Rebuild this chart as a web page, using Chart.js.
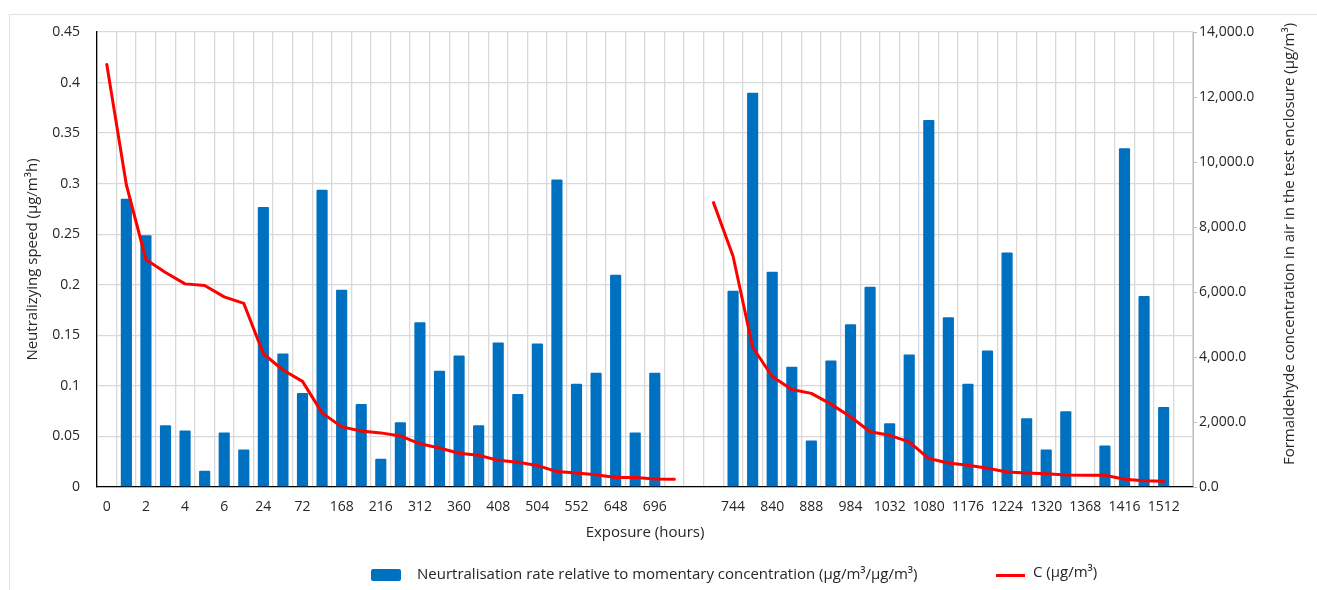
<!DOCTYPE html>
<html>
<head>
<meta charset="utf-8">
<script src="https://cdn.jsdelivr.net/npm/chart.js@4.4.0/dist/chart.umd.min.js"></script>
<style>
  body { margin: 0; background: #fff; font-family: "Open Sans", sans-serif; color: #262626; }
  #wrap { position: relative; width: 1317px; height: 590px; overflow: hidden; }
  #frame { position: absolute; left: 9px; top: 14px; width: 1400px; height: 700px;
           border-left: 1px solid #e3e3e3; border-top: 1px solid #e3e3e3; }
  canvas { position: absolute; left: 0; top: 0; }
  .leg { position: absolute; font-size: 15px; line-height: 15px; white-space: nowrap; }
  .swatch { position: absolute; width: 30px; height: 12px; background: #0070c0; border-radius: 2px; }
  .redline { position: absolute; width: 29px; height: 3px; background: #ff0000; }
</style>
</head>
<body>
<div id="wrap">
  <div id="frame"></div>
  <canvas id="chart" width="1317" height="590"></canvas>
  <div class="swatch" style="left:371px; top:569px;"></div>
  <div class="leg" style="left:417px; top:566px;">Neurtralisation rate relative to momentary concentration (µg/m³/µg/m³)</div>
  <div class="redline" style="left:996px; top:574px;"></div>
  <div class="leg" style="left:1033px; top:564px;">C (µg/m³)</div>
</div>
<script>
// x categories, only every second one is labelled in the original
const hourLabels = [
  '0', '', '2', '', '4', '', '6', '', '24', '', '72', '', '168', '', '216', '', '312', '', '360', '',
  '408', '', '504', '', '552', '', '648', '', '696', '', '', '', '744', '', '840', '', '888', '', '984', '',
  '1032', '', '1080', '', '1176', '', '1224', '', '1320', '', '1368', '', '1416', '', '1512', ''
];

// neutralisation rate (left axis)
const rateValues = [
  null, 0.285, 0.249, 0.061, 0.056, 0.016, 0.054, 0.037, 0.277, 0.132,
  0.093, 0.294, 0.195, 0.082, 0.028, 0.064, 0.163, 0.115, 0.130, 0.061,
  0.143, 0.092, 0.142, 0.304, 0.102, 0.113, 0.210, 0.054, 0.113, null,
  null, null, 0.194, 0.390, 0.213, 0.119, 0.046, 0.125, 0.161, 0.198,
  0.063, 0.131, 0.363, 0.168, 0.102, 0.135, 0.232, 0.068, 0.037, 0.075,
  null, 0.041, 0.335, 0.189, 0.079, null
];

// formaldehyde concentration C (right axis)
const concValues = [
  13000, 9300, 7000, 6600, 6250, 6200, 5850, 5650, 4100, 3600,
  3250, 2280, 1850, 1725, 1665, 1570, 1330, 1200, 1040, 975,
  820, 760, 660, 475, 430, 380, 290, 295, 245, 235,
  null, 8750, 7100, 4300, 3400, 3000, 2880, 2550, 2160, 1700,
  1590, 1390, 875, 740, 670, 575, 460, 430, 410, 370,
  360, 360, 240, 195, 175, null
];

const rateLabel = 'Neurtralisation rate relative to momentary concentration (µg/m³/µg/m³)';
const concLabel = 'C (µg/m³)';
const leftTitle = 'Neutralizying speed (µg/m³h)';
const rightTitle = 'Formaldehyde concentration in air in the test enclosure (µg/m³)';
const xTitle = 'Exposure (hours)';

Chart.defaults.font.family = '"Open Sans", sans-serif';
Chart.defaults.font.size = 14;
Chart.defaults.color = '#262626';

// chart.js puts a right axis title top-to-bottom, the original reads bottom-to-top
const rightTitlePlugin = {
  id: 'rightTitle',
  afterDraw(chart) {
    const ctx = chart.ctx;
    ctx.save();
    ctx.translate(1290, 244);
    ctx.rotate(-Math.PI / 2);
    ctx.font = '15px "Open Sans", sans-serif';
    ctx.fillStyle = '#262626';
    ctx.textAlign = 'center';
    ctx.textBaseline = 'middle';
    ctx.fillText(rightTitle, 0, 0);
    ctx.restore();
  }
};

new Chart(document.getElementById('chart'), {
  type: 'bar',
  data: {
    labels: hourLabels,
    datasets: [
      {
        type: 'line',
        label: concLabel,
        data: concValues,
        yAxisID: 'y1',
        borderColor: '#ff0000',
        borderWidth: 3,
        pointRadius: 0,
        tension: 0,
        borderJoinStyle: 'round',
        borderCapStyle: 'round',
        spanGaps: false,
        order: 0
      },
      {
        label: rateLabel,
        data: rateValues,
        yAxisID: 'y',
        backgroundColor: '#0070c0',
        borderRadius: 1,
        borderSkipped: 'bottom',
        categoryPercentage: 1,
        barPercentage: 0.57,
        order: 1
      }
    ]
  },
  options: {
    responsive: false,
    animation: false,
    layout: { padding: { top: 32, right: 0, bottom: 43, left: 0 } },
    plugins: {
      legend: { display: false },
      tooltip: { enabled: false }
    },
    scales: {
      x: {
        afterFit: s => { s.height = 60; },
        grid: { color: '#d9d9d9', lineWidth: 1.3, drawTicks: false },
        border: { color: '#000', width: 1.3 },
        ticks: { autoSkip: false, maxRotation: 0, minRotation: 0, padding: 12 },
        title: { display: true, text: xTitle, font: { size: 15 }, padding: { top: 0, bottom: 5 } }
      },
      y: {
        position: 'left',
        min: 0,
        max: 0.45,
        afterFit: s => { s.width = 97; },
        grid: { color: '#d9d9d9', lineWidth: 1.3, drawTicks: false },
        border: { color: '#000', width: 1.3 },
        ticks: {
          stepSize: 0.05,
          padding: 17,
          callback: v => String(+v.toFixed(2))
        },
        title: { display: true, text: leftTitle, font: { size: 15 }, padding: { top: 24, bottom: 0 } }
      },
      y1: {
        position: 'right',
        min: 0,
        max: 14000,
        afterFit: s => { s.width = 124; },
        grid: { drawOnChartArea: false, color: '#bfbfbf', tickLength: 4 },
        border: { color: '#bfbfbf' },
        ticks: {
          stepSize: 2000,
          padding: 2,
          callback: v => v.toLocaleString('en-US', { minimumFractionDigits: 1, maximumFractionDigits: 1 })
        }
      }
    }
  },
  plugins: [rightTitlePlugin]
});
</script>
</body>
</html>
